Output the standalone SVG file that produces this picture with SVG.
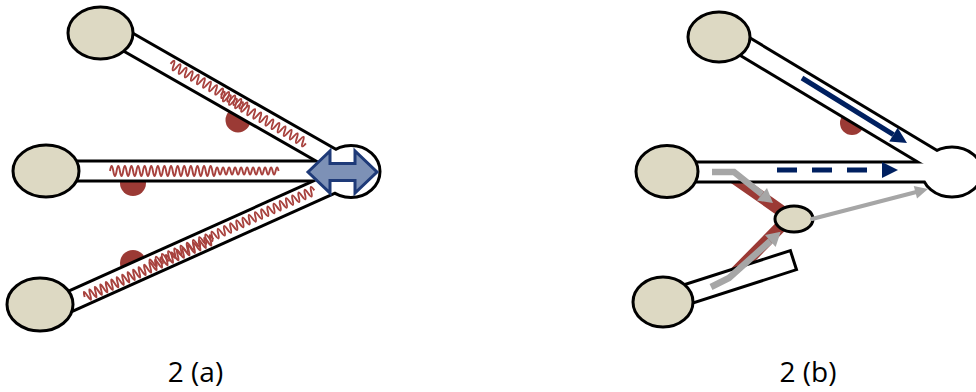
<svg xmlns="http://www.w3.org/2000/svg" width="976" height="392" viewBox="0 0 976 392">
<style>
.tb{fill:none;stroke:#000;stroke-width:23}
.tw{fill:none;stroke:#fff;stroke-width:17}
.node{fill:#ddd9c3;stroke:#000;stroke-width:3}
.hub{fill:#fff;stroke:#000;stroke-width:3}
.spring{fill:none;stroke:#a8423e;stroke-width:1.9}
.dot{fill:#9b3a35}
.gray{fill:none;stroke:#a6a6a6;stroke-linejoin:miter}
.navy{fill:none;stroke:#002060;stroke-width:5}
.lbl{font-family:"Open Sans","Liberation Sans",sans-serif;font-size:28px;fill:#000;text-anchor:middle}
</style>
<defs>
<marker id="navyHead" markerUnits="userSpaceOnUse" markerWidth="17" markerHeight="16" viewBox="0 0 17 16" refX="0" refY="8" orient="auto" overflow="visible"><path d="M0,0 L16,8 L0,16 z" fill="#002060"/></marker>
<marker id="grayHead" markerUnits="userSpaceOnUse" markerWidth="15" markerHeight="16" viewBox="0 0 15 16" refX="0" refY="8" orient="auto" overflow="visible"><path d="M0,0 L14,8 L0,16 z" fill="#a6a6a6"/></marker>
<marker id="grayHeadS" markerUnits="userSpaceOnUse" markerWidth="14" markerHeight="13" viewBox="0 0 14 13" refX="0" refY="6.5" orient="auto" overflow="visible"><path d="M0,0 L13,6.5 L0,13 z" fill="#a6a6a6"/></marker>
</defs>
<rect width="976" height="392" fill="#fff"/>

<!-- Panel (a) -->
<g id="a-dots">
<circle class="dot" cx="238" cy="120" r="12.5"/>
<circle class="dot" cx="133" cy="183" r="13"/>
<circle class="dot" cx="133" cy="263" r="13"/>
</g>
<g id="a-connectors">
<g id="a-tube-outlines">
<path class="tb" d="M100,26 L351,169.5"/>
<path class="tb" d="M46,171 L351,171"/>
<path class="tb" d="M41,314.5 L351,175"/>
</g>
<g id="a-hub"><ellipse class="hub" cx="351" cy="171.5" rx="29" ry="26"/></g>
<g id="a-tube-inner">
<path class="tw" d="M100,26 L351,169.5"/>
<path class="tw" d="M46,171 L351,171"/>
<path class="tw" d="M41,314.5 L351,175"/>
</g>
</g>
<g id="a-springs">
<g transform="translate(100,26) rotate(29.68)">
<path class="spring" d="M80,-2 q1.75,-9 3.5,0 t3.5,0 t3.5,0 t3.5,0 t3.5,0 t3.5,0 t3.5,0 t3.5,0 t3.5,0 t3.5,0 t3.5,0 t3.5,0 t3.5,0 t3.5,0 t3.5,0 t3.5,0 t3.5,0 t3.5,0 t3.5,0 t3.5,0 t3.5,0 t3.5,0 t3.5,0 t3.5,0 t3.5,0"/>
<path class="spring" d="M139,0 q1.75,-9 3.5,0 t3.5,0 t3.5,0 t3.5,0 t3.5,0 t3.5,0 t3.5,0 t3.5,0 t3.5,0 t3.5,0 t3.5,0 t3.5,0 t3.5,0 t3.5,0 t3.5,0 t3.5,0 t3.5,0 t3.5,0 t3.5,0 t3.5,0 t3.5,0 t3.5,0 t3.5,0 t3.5,0 t3.5,0 t3.5,0 t3.5,0 t3.5,0"/>
</g>
<path class="spring" d="M110,171 q1.65,-10 3.3,0 t3.3,0 t3.3,0 t3.3,0 t3.3,0 t3.3,0 t3.3,0 t3.3,0 t3.3,0 t3.3,0 t3.3,0 t3.3,0 t3.3,0 t3.3,0 t3.3,0 t3.3,0 t3.3,0 t3.3,0 t3.3,0 t3.3,0 t3.3,0 t3.3,0 t3.3,0 t3.3,0 t3.3,0 t3.3,0 t3.3,0 t3.3,0 t3.3,0 t3.3,0 t3.3,0 t3.3,0 q1.5,-7 3,0 t3,0 t3,0 t3,0 t3,0 t3,0 t3,0 t3,0 t3,0 t3,0 t3,0 t3,0 t3,0 t3,0 t3,0 t3,0 t3,0 t3,0 t3,0 t3,0 t3,0"/>
<g transform="translate(41,314.5) rotate(-24.23)">
<path class="spring" d="M47,2 q1.5,-10 3,0 t3,0 t3,0 t3,0 t3,0 t3,0 t3,0 t3,0 t3,0 t3,0 t3,0 t3,0 t3,0 t3,0 t3,0 t3,0 t3,0 t3,0 t3,0 t3,0 t3,0 t3,0 t3,0 t3,0 t3,0 t3,0 t3,0 t3,0 t3,0 t3,0 t3,0 t3,0 t3,0 t3,0 t3,0 t3,0 t3,0 t3,0 t3,0 t3,0 t3,0 t3,0 t3,0 t3,0 t3,0 t3,0 t3,0"/>
<path class="spring" d="M120,-1 q1.7,-9 3.4,0 t3.4,0 t3.4,0 t3.4,0 t3.4,0 t3.4,0 t3.4,0 t3.4,0 t3.4,0 t3.4,0 t3.4,0 t3.4,0 t3.4,0 t3.4,0 t3.4,0 t3.4,0 t3.4,0 t3.4,0 t3.4,0 t3.4,0 t3.4,0 t3.4,0 t3.4,0 t3.4,0 t3.4,0 t3.4,0 t3.4,0 t3.4,0 t3.4,0 t3.4,0 t3.4,0 t3.4,0 t3.4,0 t3.4,0 t3.4,0 t3.4,0 t3.4,0 t3.4,0 t3.4,0 t3.4,0 t3.4,0 t3.4,0 t3.4,0 t3.4,0 t3.4,0 t3.4,0 t3.4,0 t3.4,0 t3.4,0 t3.4,0 t3.4,0 t3.4,0 t3.4,0"/>
</g>
</g>
<g id="a-n1"><ellipse class="node" cx="100.5" cy="33" rx="32.5" ry="26"/></g>
<g id="a-n2"><ellipse class="node" cx="46" cy="171" rx="33" ry="26"/></g>
<g id="a-n3"><ellipse class="node" cx="40" cy="304.5" rx="33" ry="26.5"/></g>
<g id="a-exchange"><polygon points="308,172 330,151 330,163.5 355,163.5 355,151 377,172 355,193 355,180.5 330,180.5 330,193" fill="#7d91b6" stroke="#1e3a78" stroke-width="3" stroke-linejoin="miter"/></g>
<text class="lbl" x="195.5" y="382">2 (a)</text>

<!-- Panel (b) -->
<g id="b-dots"><circle class="dot" cx="852" cy="123" r="12"/></g>
<path id="b-band" d="M730,175 L790,217 L735,273" fill="none" stroke="#9b3a35" stroke-width="12" stroke-linejoin="miter"/>
<g id="b-connectors">
<g id="b-tube-outlines">
<path class="tb" d="M719,31 L952,171"/>
<path class="tb" d="M667,172 L952,172"/>
</g>
<g id="b-hub"><ellipse class="hub" cx="952" cy="172" rx="30" ry="25"/></g>
<g id="b-tube-inner">
<path class="tw" d="M719,31 L952,171"/>
<path class="tw" d="M667,172 L952,172"/>
</g>
<rect x="0" y="-10" width="137" height="20" transform="translate(663,302) rotate(-17.8)" fill="#fff" stroke="#000" stroke-width="3"/>
</g>
<g id="b-n1"><ellipse class="node" cx="719" cy="37" rx="31" ry="25"/></g>
<g id="b-n2"><ellipse class="node" cx="667" cy="171.5" rx="31" ry="26"/></g>
<g id="b-n3"><ellipse class="node" cx="663" cy="302" rx="30" ry="25"/></g>
<g id="b-small"><ellipse class="node" cx="794" cy="219" rx="19" ry="13"/></g>
<g id="b-arrows">
<path class="gray" stroke-width="6.5" d="M712,172 L734,172 L762,194.3" marker-end="url(#grayHead)"/>
<path class="gray" stroke-width="6.5" d="M711,287 L729,278 L770.3,241" marker-end="url(#grayHead)"/>
<path class="gray" stroke-width="4" stroke-linecap="round" d="M812,219 L915.4,192.2" marker-end="url(#grayHeadS)"/>
<path class="navy" d="M802,78 L893.4,134.6" marker-end="url(#navyHead)"/>
<path class="navy" d="M777,170 L882,170" stroke-dasharray="20 15" marker-end="url(#navyHead)"/>
</g>
<text class="lbl" x="808" y="382">2 (b)</text>
</svg>
